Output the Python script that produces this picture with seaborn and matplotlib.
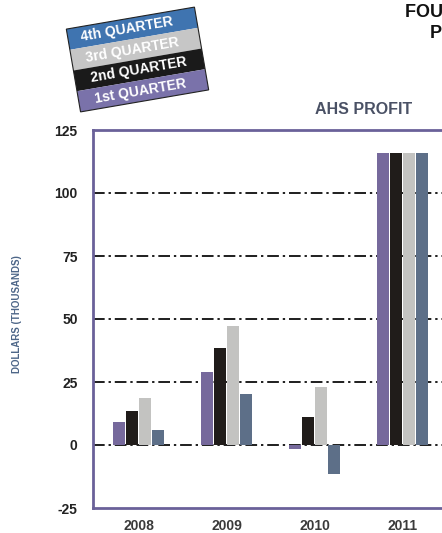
import matplotlib
matplotlib.use("Agg")
import matplotlib.pyplot as plt
import seaborn as sns
import pandas as pd
from matplotlib.patches import Rectangle
from matplotlib.transforms import Affine2D

years = ["2008", "2009", "2010", "2011"]
quarters = ["1st QUARTER", "2nd QUARTER", "3rd QUARTER", "4th QUARTER"]
q1 = [9.2, 29.0, -1.5, 116.0]
q2 = [13.5, 38.5, 11.0, 116.0]
q3 = [18.5, 47.2, 23.0, 116.0]
q4 = [6.0, 20.2, -11.5, 116.0]
y_ticks = [-25, 0, 25, 50, 75, 100, 125]

bar_colors = ["#76699c", "#201c1a", "#c3c3c1", "#5d6f88"]
legend_colors = ["#7a72aa", "#1a1a1a", "#c6c6c6", "#3f74b0"]

rows = []
for q, vals in zip(quarters, [q1, q2, q3, q4]):
    for y, v in zip(years, vals):
        rows.append({"year": y, "quarter": q, "value": v})
df = pd.DataFrame(rows)

sns.set_theme(style="white")
plt.rcParams["font.family"] = ["Liberation Sans", "DejaVu Sans"]
plt.rcParams["axes.unicode_minus"] = False

W, H = 442, 533
fig = plt.figure(figsize=(W / 100, H / 100), dpi=100)
ax = fig.add_axes([93 / W, 1 - 508 / H, 1 - 93 / W, 378 / H])

sns.barplot(data=df, x="year", y="value", hue="quarter", order=years,
            hue_order=quarters, palette=bar_colors, width=0.6, gap=0.08,
            saturation=1, ax=ax, legend=False, zorder=3, linewidth=0)

ax.set_ylim(-25, 125)
ax.set_xlim(-0.517, 3.449)
ax.set_yticks(y_ticks)
ax.set_xlabel("")
ax.set_ylabel("")
for v in [0, 25, 50, 75, 100]:
    ax.axhline(v, color="#1e1e1e", lw=1.4, ls=(0, (6, 2, 1.2, 2)), zorder=1)

spine_c = "#6a6199"
for s in ["left", "top", "bottom"]:
    ax.spines[s].set_color(spine_c)
    ax.spines[s].set_linewidth(2)
ax.spines["right"].set_visible(False)
ax.tick_params(axis="y", direction="out", length=8, width=1.4, color="#333333",
               pad=3, labelsize=10, labelcolor="#222222")
ax.tick_params(axis="x", length=0, pad=8, labelsize=10, labelcolor="#3a3a3a")
for lab in ax.get_yticklabels() + ax.get_xticklabels():
    lab.set_fontweight("bold")

# panel title
fig.text(364 / W, 1 - 110 / H, "AHS PROFIT", ha="center", va="center",
         fontsize=11.5, fontweight="bold", color="#4a5165")

# y label
fig.text(17 / W, 1 - 314 / H, "DOLLARS (THOUSANDS)", rotation=90,
         ha="center", va="center", fontsize=7, fontweight="bold",
         color="#4d6688")

# cut-off main title at top right (cropped in the reference as well)
fig.text(405 / W, 1 - 17 / H, "FOUR QUARTER", ha="left", va="baseline",
         fontsize=13, fontweight="bold", color="#111111")
fig.text(430 / W, 1 - 38 / H, "PROFIT", ha="left", va="baseline",
         fontsize=13, fontweight="bold", color="#111111")

# rotated legend block
cx, cy = 137.5 / 100, (H - 59.5) / 100
bw, bh = 130 / 100, 84 / 100
sh = bh / 4
trans = Affine2D().rotate_deg_around(cx, cy, 9.75) + fig.dpi_scale_trans
x0 = cx - bw / 2
ytop = cy + bh / 2
order = [3, 2, 1, 0]
for i, qi in enumerate(order):
    yb = ytop - (i + 1) * sh
    fig.add_artist(Rectangle((x0, yb), bw, sh, transform=trans,
                             facecolor=legend_colors[qi], edgecolor="none"))
    fig.text(x0 + (13 + 1.2 * i) / 100, yb + sh / 2, quarters[qi],
             transform=trans, rotation=9.75, rotation_mode="anchor",
             ha="left", va="center", fontsize=10, fontweight="bold",
             color="white")
fig.add_artist(Rectangle((x0, ytop - bh), bw, bh, transform=trans,
                         facecolor="none", edgecolor="#222222", lw=0.8))

fig.savefig("out.png", dpi=100)
